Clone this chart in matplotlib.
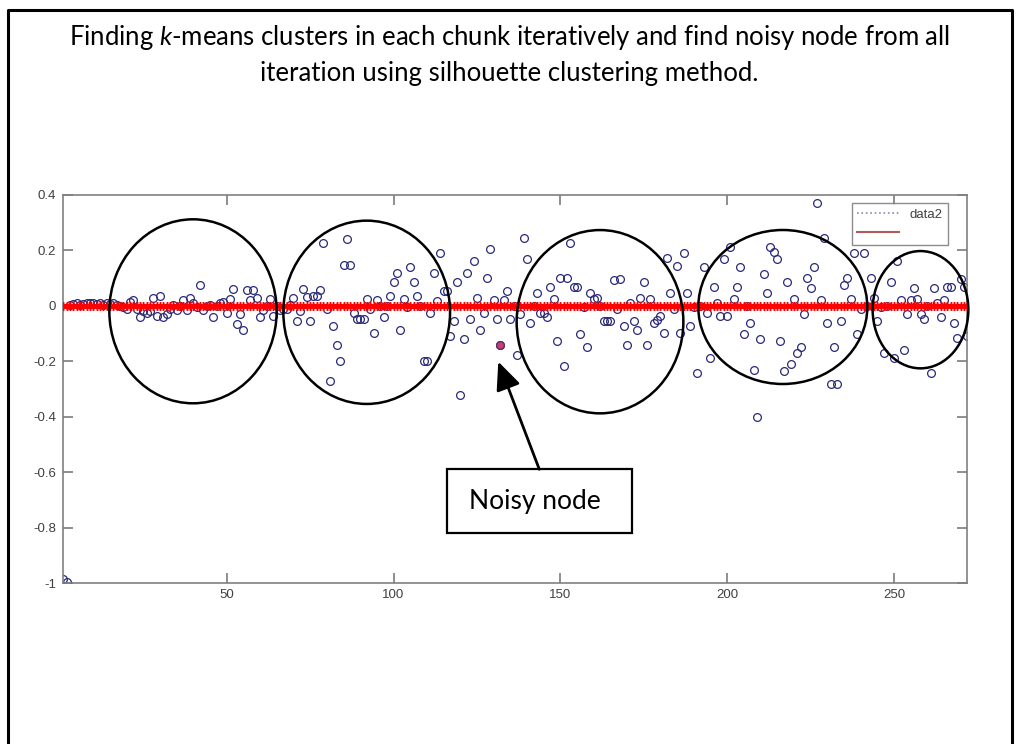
import matplotlib
matplotlib.use("Agg")
import matplotlib.pyplot as plt
import numpy as np
from matplotlib.patches import Ellipse, Rectangle
from matplotlib.lines import Line2D

plt.rcParams['mathtext.fontset'] = 'custom'
plt.rcParams['mathtext.rm'] = 'Lato'
plt.rcParams['mathtext.it'] = 'Lato:italic'

# silhouette values per node
node_vals = [
    -0.985, -0.995, 0.005, 0.008, 0.010, 0.005, 0.008, 0.010, 0.012, 0.010,
    0.008, 0.010, 0.005, 0.010, 0.008, 0.010, 0.005, 0.000, -0.005, -0.010,
    0.015, 0.020, -0.010, -0.040, -0.020, -0.025, -0.020, 0.030, -0.035, 0.035,
    -0.040, -0.030, -0.010, 0.005, -0.015, 0.000, 0.020, -0.015, 0.030, 0.010,
    -0.005, 0.076, -0.016, 0.000, 0.005, -0.040, 0.000, 0.010, 0.016, -0.025,
    0.025, 0.062, -0.064, -0.030, -0.088, 0.056, 0.020, 0.058, 0.030, -0.040,
    -0.015, 0.000, 0.024, -0.035, 0.000, -0.015, -0.010, -0.010, 0.005, 0.030,
    -0.056, -0.020, 0.060, 0.032, -0.056, 0.035, 0.036, 0.058, 0.226, -0.010,
    -0.269, -0.072, -0.140, -0.197, 0.147, 0.241, 0.147, -0.024, -0.048, -0.048,
    -0.048, 0.024, -0.012, -0.096, 0.020, 0.000, -0.041, 0.000, 0.036, 0.088,
    0.118, -0.086, 0.025, -0.005, 0.139, 0.088, 0.035, 0.000, -0.197, -0.197,
    -0.024, 0.118, 0.017, 0.192, 0.055, 0.055, -0.108, -0.053, 0.088, -0.321,
    -0.120, 0.120, -0.048, 0.163, 0.030, -0.086, -0.024, 0.100, 0.204, 0.020,
    -0.048, -0.140, 0.020, 0.055, -0.048, 0.000, -0.177, -0.030, 0.244, 0.168,
    -0.062, 0.000, 0.048, -0.026, -0.026, -0.041, 0.067, 0.024, -0.128, 0.100,
    -0.216, 0.100, 0.226, 0.067, 0.067, -0.100, -0.005, -0.149, 0.045, 0.025,
    0.030, 0.000, -0.053, -0.053, -0.053, 0.094, -0.010, 0.098, -0.072, -0.140,
    0.010, -0.053, -0.086, 0.030, 0.088, -0.140, 0.025, -0.060, -0.050, -0.036,
    -0.096, 0.172, 0.048, -0.010, 0.144, -0.096, 0.192, 0.048, -0.072, -0.005,
    -0.243, 0.000, 0.139, -0.024, -0.189, 0.070, 0.010, -0.036, 0.168, -0.036,
    0.211, 0.025, 0.070, 0.139, -0.100, 0.000, -0.062, -0.231, -0.399, -0.120,
    0.115, 0.048, 0.214, 0.196, 0.170, -0.128, -0.236, 0.088, -0.209, 0.025,
    -0.168, -0.149, -0.029, 0.100, 0.064, 0.139, 0.372, 0.020, 0.244, -0.062,
    -0.282, -0.149, -0.282, -0.056, 0.076, 0.100, 0.025, 0.192, -0.100, -0.010,
    0.192, 0.000, 0.100, 0.030, -0.053, -0.005, -0.170, 0.000, 0.088, -0.189,
    0.163, 0.020, -0.159, -0.030, 0.020, 0.064, 0.025, -0.030, -0.048, 0.000,
    -0.240, 0.064, 0.010, -0.041, 0.020, 0.070, 0.070, -0.062, -0.116, 0.096,
    0.070, -0.110,
]
node_ids = np.arange(1, len(node_vals) + 1)
baseline = np.zeros(len(node_vals))
noisy_id = 132

xticks = [50, 100, 150, 200, 250]
yticks = [-1, -0.8, -0.6, -0.4, -0.2, 0, 0.2, 0.4]
ytick_labels = ['-1', '-0.8', '-0.6', '-0.4', '-0.2', '0', '0.2', '0.4']

fig = plt.figure(figsize=(10.19, 7.44), dpi=100)
ax = fig.add_axes([63.3 / 1019, (744 - 583.3) / 744, 904 / 1019, 388.3 / 744])

ax.plot(node_ids, node_vals, linestyle='none', marker='o', ms=5.6,
        mfc='none', mec='#2a2a78', mew=0.9, zorder=2)
ax.plot(node_ids, baseline, color='red', lw=1.5, marker=(6, 2, 0), ms=6.5,
        mew=1.0, zorder=3)
ax.plot([noisy_id], [node_vals[noisy_id - 1]], linestyle='none', marker='o',
        ms=5.6, mfc='#c8406a', mec='#5a2a6a', mew=0.9, zorder=4)

ax.set_xlim(1, len(node_vals))
ax.set_ylim(-1, 0.4)
ax.set_xticks(xticks)
ax.set_yticks(yticks)
ax.set_yticklabels(ytick_labels)
ax.tick_params(direction='in', length=7, width=1.1, color='#707070',
               labelcolor='#404040', labelsize=9.5, top=True, right=True,
               labeltop=False, labelright=False)
ax.tick_params(axis='y', pad=5)
ax.tick_params(axis='x', pad=4)
for lab in ax.get_xticklabels() + ax.get_yticklabels():
    lab.set_family('Liberation Sans')
for s in ax.spines.values():
    s.set_color('#808080')
    s.set_linewidth(1.2)

handles = [Line2D([], [], color='#8a8ab0', ls=':', lw=1.2),
           Line2D([], [], color='#b05a5a', lw=1.5)]
leg = ax.legend(handles, ['data2', ' '], loc='upper right',
                bbox_to_anchor=(0.9787, 0.9794), borderaxespad=0,
                fancybox=False, handlelength=3.2,
                prop={'family': 'Liberation Sans', 'size': 9.5})
leg.get_frame().set_edgecolor('#707070')
leg.get_frame().set_linewidth(1.0)
for t in leg.get_texts():
    t.set_color('#404040')

# overlay in pixel coordinates for the hand drawn annotations
ov = fig.add_axes([0, 0, 1, 1])
ov.set_xlim(0, 1019)
ov.set_ylim(744, 0)
ov.axis('off')
ov.patch.set_alpha(0)

ov.plot([8, 8, 1012, 1012], [760, 10, 10, 760], color='black', lw=2.2)

ov.text(509, 38, 'Finding $k$-means clusters in each chunk iteratively and find noisy node from all',
        ha='center', va='center', fontsize=18.5, family='Lato')
ov.text(509, 74, 'iteration using silhouette clustering method.',
        ha='center', va='center', fontsize=18.5, family='Lato')

for cx, cy, w, h in [(193, 311.3, 167.3, 184), (366.7, 312.3, 166.7, 183.3),
                     (600, 321.7, 166.7, 183.3), (782.8, 307, 169, 154),
                     (920.5, 309.7, 95.7, 117.3)]:
    ov.add_patch(Ellipse((cx, cy), w, h, fill=False, ec='black', lw=1.8))

ov.add_patch(Rectangle((447.3, 469), 184.7, 63.7, fill=True, fc='white',
                       ec='black', lw=1.6))
ov.text(535, 501, 'Noisy node', ha='center', va='center', fontsize=19,
        family='Lato')
ov.annotate('', xy=(498.3, 361.7), xytext=(539.3, 469.3),
            arrowprops=dict(arrowstyle='-|>,head_length=0.45,head_width=0.2',
                            color='black', lw=2, mutation_scale=38,
                            shrinkA=0, shrinkB=0))

fig.savefig('out.png', dpi=100)
